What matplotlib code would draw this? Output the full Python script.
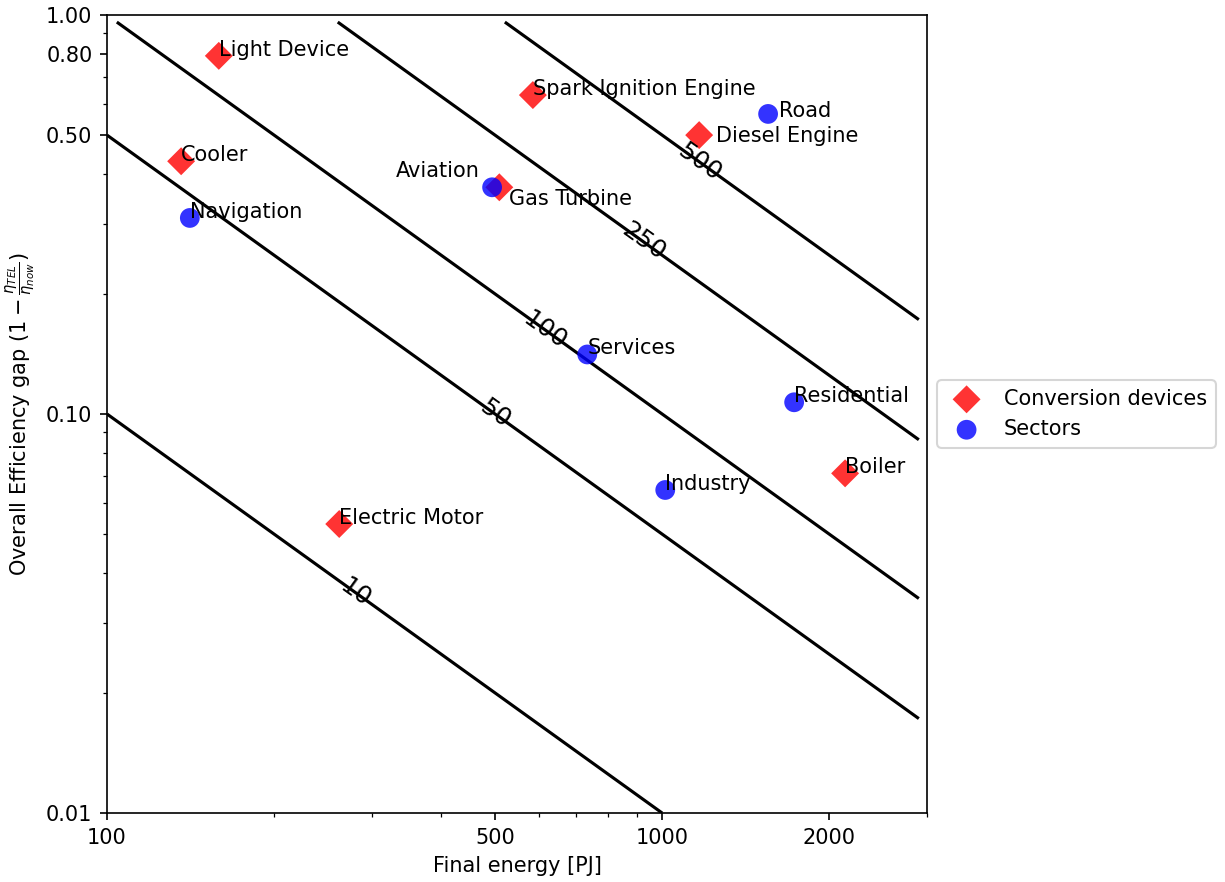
import numpy as np
import matplotlib
matplotlib.use("Agg")
import matplotlib.pyplot as plt
from matplotlib.ticker import FixedLocator, FixedFormatter, NullFormatter, LogLocator

# ---- data ----
device_names = ["Light Device", "Cooler", "Spark Ignition Engine", "Diesel Engine",
                "Gas Turbine", "Electric Motor", "Boiler"]
device_energy = [159, 136, 585, 1166, 509, 262, 2136]
device_gap = [0.79, 0.43, 0.63, 0.50, 0.37, 0.053, 0.071]

sector_names = ["Navigation", "Aviation", "Road", "Services", "Residential", "Industry"]
sector_energy = [141, 494, 1552, 733, 1729, 1013]
sector_gap = [0.31, 0.37, 0.565, 0.141, 0.107, 0.0645]

contour_levels = [10, 50, 100, 250, 500]
label_energy = [280, 500, 615, 925, 1170]   # where the contour labels sit

x_ticks = [100, 500, 1000, 2000]
y_ticks = [0.01, 0.10, 0.50, 0.80, 1.00]
y_tick_labels = ["0.01", "0.10", "0.50", "0.80", "1.00"]

# text offsets (points) for labels that are not at the point
label_offsets = {"Aviation": (-6, 5, "right"), "Gas Turbine": (4.5, -8.5, "left"),
                 "Diesel Engine": (8, -3.5, "left"), "Road": (5, -1.5, "left")}

# ---- figure ----
fig = plt.figure(figsize=(1225 / 150, 882 / 150), dpi=150)
ax = fig.add_axes([107 / 1225, 1 - 813 / 882, (927 - 107) / 1225, (813 - 15) / 882])

xg = np.arange(100, 3000, 100)
yg = np.arange(0.01, 1, 0.05)
X, Y = np.meshgrid(xg, yg)
cs = ax.contour(X, Y, X * Y, levels=contour_levels, colors="black", linewidths=1.5)
ax.set_xscale("log")
ax.set_yscale("log")
ax.set_xlim(100, 3000)
ax.set_ylim(0.01, 1.0)

manual = [(xe, lv / xe) for xe, lv in zip(label_energy, contour_levels)]
ax.clabel(cs, inline=False, fmt="%d", manual=manual, fontsize=12, colors="black")

ax.scatter(device_energy, device_gap, marker="D", s=90, color="red", alpha=0.8,
           edgecolors="none", label="Conversion devices", zorder=3)
ax.scatter(sector_energy, sector_gap, marker="o", s=90, color="blue", alpha=0.8,
           edgecolors="none", label="Sectors", zorder=4)

for names, xs, ys in ((device_names, device_energy, device_gap),
                      (sector_names, sector_energy, sector_gap)):
    for n, xv, yv in zip(names, xs, ys):
        if n in label_offsets:
            dx, dy, ha = label_offsets[n]
            ax.annotate(n, (xv, yv), xytext=(dx, dy), textcoords="offset points",
                        ha=ha, va="baseline", fontsize=10, zorder=5)
        else:
            ax.annotate(n, (xv, yv), fontsize=10, zorder=5)

ax.xaxis.set_major_locator(FixedLocator(x_ticks))
ax.xaxis.set_major_formatter(FixedFormatter([str(t) for t in x_ticks]))
ax.xaxis.set_minor_locator(LogLocator(base=10, subs=np.arange(2, 10)))
ax.xaxis.set_minor_formatter(NullFormatter())
ax.yaxis.set_major_locator(FixedLocator(y_ticks))
ax.yaxis.set_major_formatter(FixedFormatter(y_tick_labels))
ax.yaxis.set_minor_locator(LogLocator(base=10, subs=np.arange(2, 10)))
ax.yaxis.set_minor_formatter(NullFormatter())

ax.set_xlabel("Final energy [PJ]")
ax.set_ylabel(r"Overall Efficiency gap $(1-\frac{\eta_{TEL}}{\eta_{now}})$")

ax.legend(loc="center left", bbox_to_anchor=(1.0, 0.5), scatterpoints=1)

fig.savefig("out.png", dpi=150)
